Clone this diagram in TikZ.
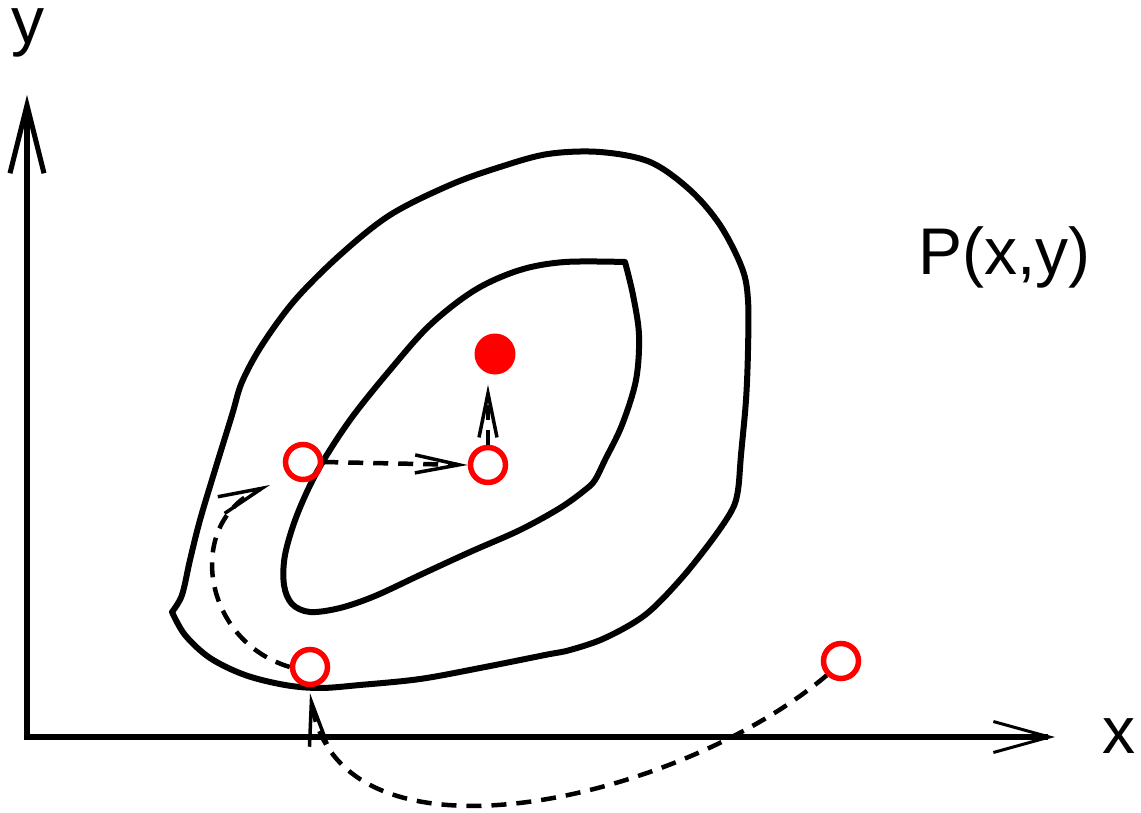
\documentclass[tikz,border=0pt]{standalone}
\usepackage{fontspec}
\setmainfont{Liberation Sans}
\usetikzlibrary{arrows.meta,calc}
\begin{document}
\begin{tikzpicture}[x=1pt,y=-1pt,
  curve/.style={line width=6pt, line join=round, line cap=round},
  axisline/.style={line width=5.5pt},
  dasharrow/.style={line width=4.5pt, dash pattern=on 15pt off 10pt,
    -{Straight Barb[length=44pt,width=18pt,line width=3.5pt]}},
  opencirc/.style={circle, draw=red, line width=5.5pt, minimum size=35pt, inner sep=0pt},
  fillcirc/.style={circle, fill=red, minimum size=41pt, inner sep=0pt},
  lbl/.style={font=\fontsize{66}{70}\selectfont, inner sep=0pt, text height=34pt, text depth=0pt}
]
\useasboundingbox (0,0) rectangle (1141,813);

% axes
\coordinate (O) at (27,737);
\coordinate (ytip) at (27,95);
\coordinate (xtip) at (1055,737);
\draw[axisline, -{Straight Barb[length=68pt,width=34pt,line width=5pt]}] (O) -- (ytip);
\draw[axisline, -{Straight Barb[length=56pt,width=31pt,line width=3pt]}] ([xshift=-2.75pt]O) -- (xtip);

\node[lbl, anchor=base] (ylab) at (28,44) {y};
\node[lbl, anchor=base] (xlab) at (1119,753) {x};
\node[lbl, anchor=base west, text height=48pt] (plab) at (918,275) {P(x,y)};

% outer contour
\draw[curve] plot[smooth, tension=0.55] coordinates {
(172,612) (182,595) (190,560) (200,520) (215,470) (232,415) (242,382)
(262,345) (295,300) (340,255) (390,215) (450,185) (500,167) (548,154)
(600,152) (650,162) (690,190) (720,225) (742,268) (748,300) (748,350)
(746,400) (741,455) (738,490) (732,510) (712,540) (680,580) (645,615)
(605,638) (570,650) (545,655) (480,668) (420,679) (360,685) (320,688)
(285,685) (245,675) (210,658) (185,635) (172,612)};

% inner contour
\draw[curve] plot[smooth, tension=0.55] coordinates {
(625,262) (633,295) (639,335) (636,380) (622,425) (605,460) (595,480)
(585,490) (560,508) (520,530) (470,552) (420,575) (375,596) (340,608)
(310,612) (292,604) (284,585) (285,555) (297,515) (318,470) (350,420)
(390,370) (430,325) (475,290) (520,270) (565,262) (625,262)};

% points
\node[opencirc] (c1) at (303,462) {};
\node[opencirc] (c2) at (488,465) {};
\node[opencirc] (c3) at (310,667) {};
\node[opencirc] (c4) at (841,661) {};
\node[fillcirc] (f) at (495,354) {};

% moves
\draw[dasharrow] (c1.east) -- (c2.west);
\draw[dasharrow, shorten >=10pt] (c2.north) -- (c2.north |- f.south);
\draw[dasharrow] (c3.west) .. controls (200,640) and (185,520) .. ($(c1.center)+(-33,23)$);
\draw[dasharrow] (c4.225) .. controls (680,800) and (340,880) .. ([yshift=-6pt]c3.south);
\end{tikzpicture}
\end{document}
